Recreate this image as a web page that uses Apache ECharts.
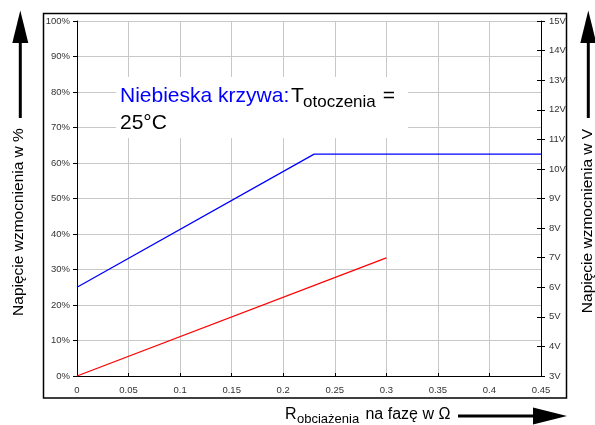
<!DOCTYPE html>
<html>
<head>
<meta charset="utf-8">
<script src="https://cdn.jsdelivr.net/npm/echarts@6/dist/echarts.min.js"></script>
<style>
  html, body { margin: 0; padding: 0; background: #fff; }
  #chart { width: 595px; height: 425px; }
</style>
</head>
<body>
<div id="chart"></div>
<script>
// Load resistance per phase (Ω) and boost voltage (% of range)
const blueX = [0, 0.23, 0.45];
const blueY = [25, 62.5, 62.5];
const redX = [0, 0.3];
const redY = [0, 33.3];

// Axis ranges
const xRange = { min: 0, max: 0.45, step: 0.05 };
const pctRange = { min: 0, max: 100, step: 10 };
const voltRange = { min: 3, max: 15, step: 1 };

const FONT = "'Liberation Sans', Arial, Helvetica, sans-serif";
const chart = echarts.init(document.getElementById('chart'), null, { renderer: 'canvas' });

const pair = (xs, ys) => xs.map((x, i) => [x, ys[i]]);
const tickLabel = { fontFamily: FONT, fontSize: 9.5, color: '#333' };

chart.setOption({
  animation: false,
  backgroundColor: '#fff',
  grid: { left: 77, right: 54, top: 21, bottom: 49 },
  xAxis: {
    type: 'value', min: xRange.min, max: xRange.max, interval: xRange.step,
    axisLine: { lineStyle: { color: '#000', width: 1 } },
    axisTick: { inside: true, length: 3, lineStyle: { color: '#000' } },
    axisLabel: Object.assign({ margin: 9 }, tickLabel),
    splitLine: { show: true, lineStyle: { color: '#c8c8c8', width: 1 } }
  },
  yAxis: [
    {
      type: 'value', position: 'left', min: pctRange.min, max: pctRange.max, interval: pctRange.step,
      axisLine: { show: true, lineStyle: { color: '#000', width: 1 } },
      axisTick: { show: true, length: 4, lineStyle: { color: '#000' } },
      axisLabel: Object.assign({ margin: 7, formatter: '{value}%' }, tickLabel),
      splitLine: { show: true, lineStyle: { color: '#c8c8c8', width: 1 } }
    },
    {
      type: 'value', position: 'right', min: voltRange.min, max: voltRange.max, interval: voltRange.step,
      axisLine: { show: true, lineStyle: { color: '#000', width: 1 } },
      axisTick: { show: true, length: 4, lineStyle: { color: '#000' } },
      axisLabel: Object.assign({ margin: 8, formatter: '{value}V' }, tickLabel),
      splitLine: { show: false }
    },
    {
      type: 'value', position: 'right', min: voltRange.min, max: voltRange.max, interval: voltRange.step,
      axisLine: { show: false },
      axisTick: { show: true, inside: true, length: 4, lineStyle: { color: '#000' } },
      axisLabel: { show: false },
      splitLine: { show: false }
    }
  ],
  series: [
    {
      type: 'line', yAxisIndex: 0, data: pair(blueX, blueY), showSymbol: false,
      lineStyle: { color: '#0000ff', width: 1.3 }, z: 3
    },
    {
      type: 'line', yAxisIndex: 0, data: pair(redX, redY), showSymbol: false,
      lineStyle: { color: '#ff0000', width: 1.3 }, z: 3
    }
  ],
  graphic: [
    // frame around the plot
    { type: 'rect', shape: { x: 43.5, y: 13.5, width: 523, height: 384.5 },
      style: { fill: 'none', stroke: '#000', lineWidth: 1.5 }, z: 10 },
    // note box
    { type: 'rect', shape: { x: 116, y: 77, width: 292, height: 61 },
      style: { fill: '#fff' }, z: 20 },
    { type: 'text', x: 120, y: 96, z: 21,
      style: { text: 'Niebieska krzywa:', fill: '#0000ff', font: '21px ' + FONT, verticalAlign: 'middle' } },
    { type: 'text', x: 291, y: 96, z: 21,
      style: { text: 'T', fill: '#000', font: '21px ' + FONT, verticalAlign: 'middle' } },
    { type: 'text', x: 303, y: 102.5, z: 21,
      style: { text: 'otoczenia', fill: '#000', font: '17px ' + FONT, verticalAlign: 'middle' } },
    { type: 'text', x: 377, y: 96, z: 21,
      style: { text: ' =', fill: '#000', font: '21px ' + FONT, verticalAlign: 'middle' } },
    { type: 'text', x: 120, y: 123, z: 21,
      style: { text: '25°C', fill: '#000', font: '21px ' + FONT, verticalAlign: 'middle' } },

    // left axis title and arrow
    { type: 'text', x: 19, y: 222, rotation: Math.PI / 2, z: 21,
      style: { text: 'Napięcie wzmocnienia w %', fill: '#000', font: '15.5px ' + FONT, align: 'center', verticalAlign: 'middle' } },
    { type: 'line', shape: { x1: 20.3, y1: 40, x2: 20.3, y2: 118 }, style: { stroke: '#000', lineWidth: 3 }, z: 21 },
    { type: 'polygon', shape: { points: [[12.3, 43], [28.3, 43], [20.3, 10.5]] }, style: { fill: '#000' }, z: 21 },

    // right axis title and arrow
    { type: 'text', x: 588, y: 221, rotation: Math.PI / 2, z: 21,
      style: { text: 'Napięcie wzmocnienia w V', fill: '#000', font: '15.5px ' + FONT, align: 'center', verticalAlign: 'middle' } },
    { type: 'line', shape: { x1: 588.3, y1: 40, x2: 588.3, y2: 118 }, style: { stroke: '#000', lineWidth: 3 }, z: 21 },
    { type: 'polygon', shape: { points: [[580.3, 43], [596.3, 43], [588.3, 10.5]] }, style: { fill: '#000' }, z: 21 },

    // bottom axis title and arrow
    { type: 'text', x: 285, y: 415, z: 21,
      style: { text: 'R', fill: '#000', font: '16px ' + FONT, verticalAlign: 'middle' } },
    { type: 'text', x: 297, y: 419, z: 21,
      style: { text: 'obciażenia', fill: '#000', font: '13px ' + FONT, verticalAlign: 'middle' } },
    { type: 'text', x: 361, y: 415, z: 21,
      style: { text: ' na fazę w Ω', fill: '#000', font: '16px ' + FONT, verticalAlign: 'middle' } },
    { type: 'line', shape: { x1: 458, y1: 416, x2: 536, y2: 416 }, style: { stroke: '#000', lineWidth: 3 }, z: 21 },
    { type: 'polygon', shape: { points: [[533, 407.5], [533, 424.5], [567, 416]] }, style: { fill: '#000' }, z: 21 }
  ]
});
</script>
</body>
</html>
